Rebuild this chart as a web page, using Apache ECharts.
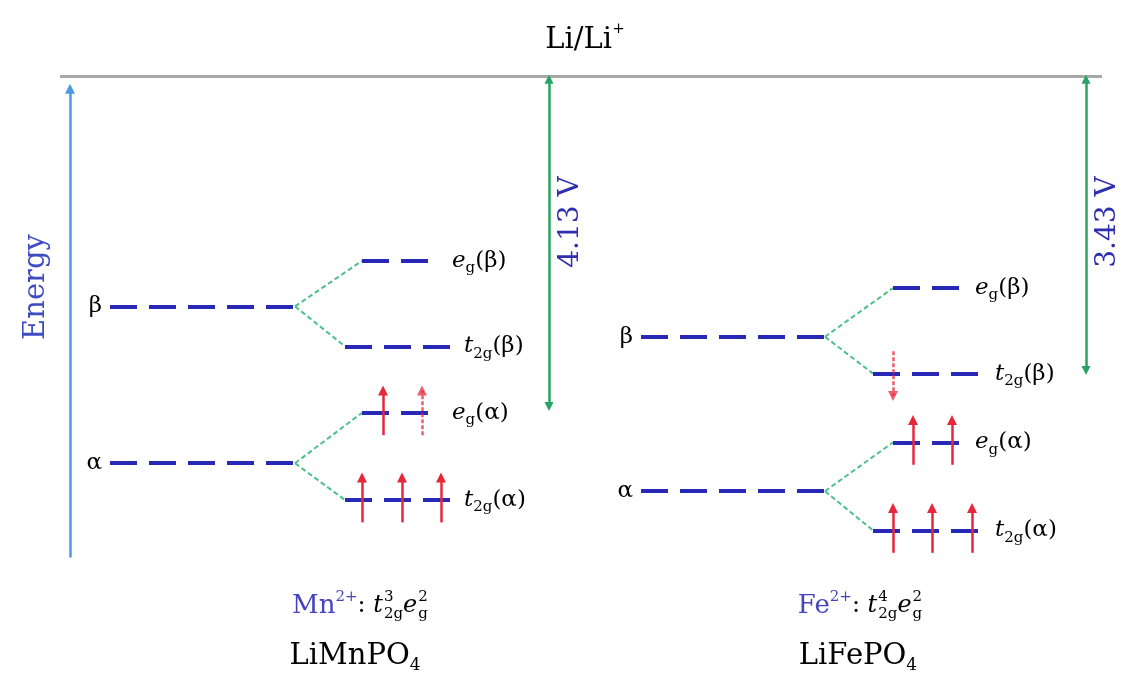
<!DOCTYPE html>
<html><head><meta charset="utf-8">
<script src="https://cdn.jsdelivr.net/npm/echarts@6/dist/echarts.min.js"></script>
<style>html,body{margin:0;padding:0;background:#fff}#c{width:1123px;height:684px}</style>
</head><body><div id="c"></div>
<script>
// ---------- DATA (energies in arb. units, Li/Li+ = 0) ----------
const materials = ['LiMnPO4', 'LiFePO4'];
const ions = ['Mn', 'Fe'];
const ionConfigT2g = ['3', '4'];
const ionConfigEg = ['2', '2'];
const voltages = ['4.13 V', '3.43 V'];
const levelNames = ['β', 'eg(β)', 't2g(β)', 'α', 'eg(α)', 't2g(α)'];
const mnLevels = [-2.88, -2.31, -3.38, -4.84, -4.21, -5.30];
const feLevels = [-3.26, -2.65, -3.72, -5.19, -4.58, -5.68];
const liLevel = 0;
const voltageArrowEnds = [-4.13, -3.68];
// electrons per level: up spins / down spins
const mnUp = [0, 0, 0, 0, 2, 3];
const feUp = [0, 0, 0, 0, 2, 3];
const mnDown = [0, 0, 0, 0, 0, 0];
const feDown = [0, 0, 1, 0, 0, 0];
// spins drawn dashed (partial): [levelIndex, spinIndex]
const mnPartial = [[4, 1]];
const fePartial = [[2, 0]];

// ---------- LAYOUT (pixel x positions, not data) ----------
const layout = [
  { parent: [110, 295], eg: [362, 432], t2g: [345, 452], nameX: 102,
    egLabelX: 452, t2gLabelX: 464, arrowX: 549, voltX: 571,
    egSpins: [383, 422], t2gSpins: [362, 402, 441], captionX: 360, matX: 355 },
  { parent: [641, 825], eg: [893, 960], t2g: [873, 980], nameX: 633,
    egLabelX: 975, t2gLabelX: 995, arrowX: 1086, voltX: 1108,
    egSpins: [913, 952], t2gSpins: [893, 932, 972], captionX: 860, matX: 858 }
];
const yMin = -7.6, yMax = 0.95;
const spinHalf = 0.28;
const FONT = 'DejaVu Serif';
const C = { level: '#2828b6', conn: '#4fc08a', volt: '#26a362', spin: '#e6283c',
            energy: '#4c9be0', li: '#a8a8a8', blueText: '#2e2eb0', text: '#000' };

const allLevels = [mnLevels, feLevels];
const ups = [mnUp, feUp], downs = [mnDown, feDown], partials = [mnPartial, fePartial];

const levelLines = [], connLines = [], spinLines = [], voltLines = [], labels = [];
const rich = {
  n: { fontFamily: FONT, fontSize: 23, color: C.text, lineHeight: 30 },
  it: { fontFamily: FONT, fontSize: 23, fontStyle: 'italic', color: C.text, lineHeight: 30 },
  sub: { fontFamily: FONT, fontSize: 15, color: C.text, verticalAlign: 'bottom', lineHeight: 14 },
  sup: { fontFamily: FONT, fontSize: 15, color: C.text, verticalAlign: 'top', lineHeight: 14 },
  cit: { fontFamily: FONT, fontSize: 24, fontStyle: 'italic', color: C.text, lineHeight: 32, align: 'left' },
  csub: { fontFamily: FONT, fontSize: 15, color: C.text, verticalAlign: 'bottom', lineHeight: 15, align: 'left' },
  csupz: { fontFamily: FONT, fontSize: 15, color: C.text, verticalAlign: 'top', lineHeight: 15, width: 0, align: 'left', padding: [0, 0, 0, 1] },
  cn: { fontFamily: FONT, fontSize: 24, color: C.text, lineHeight: 32, align: 'left' },
  bl: { fontFamily: FONT, fontSize: 26, color: '#4444c0', lineHeight: 32, align: 'left' },
  blsup: { fontFamily: FONT, fontSize: 15, color: '#4444c0', verticalAlign: 'top', lineHeight: 15, align: 'left' },
  big: { fontFamily: FONT, fontSize: 29, color: C.text, lineHeight: 36 },
  bigsub: { fontFamily: FONT, fontSize: 17, color: C.text, verticalAlign: 'bottom', lineHeight: 16 },
  bigsup: { fontFamily: FONT, fontSize: 15, color: C.text, verticalAlign: 'top', lineHeight: 18 }
};
function levelRich(name) {
  const m = name.match(/^(e|t)(g|2g)\((.)\)$/);
  if (!m) return '{n|' + name + '}';
  return '{it|' + m[1] + '}{sub|' + m[2] + '}{n|(' + m[3] + ')}';
}
function addLabel(x, y, text, pos, extra) {
  labels.push({ value: [x, y], label: Object.assign({ show: true, position: pos, distance: 0,
    formatter: text, rich: rich, opacity: 1 }, extra || {}) });
}

allLevels.forEach((lv, k) => {
  const L = layout[k];
  [[0, 1, 2], [3, 4, 5]].forEach(([p, e, t]) => {
    levelLines.push({ coords: [[L.parent[0], lv[p]], [L.parent[1], lv[p]]] });
    levelLines.push({ coords: [[L.eg[0], lv[e]], [L.eg[1], lv[e]]] });
    levelLines.push({ coords: [[L.t2g[0], lv[t]], [L.t2g[1], lv[t]]] });
    connLines.push({ coords: [[L.parent[1], lv[p]], [L.eg[0], lv[e]]] });
    connLines.push({ coords: [[L.parent[1], lv[p]], [L.t2g[0], lv[t]]] });
    addLabel(L.nameX, lv[p], '{n|' + levelNames[p] + '}', 'left');
    addLabel(L.egLabelX, lv[e], levelRich(levelNames[e]), 'right');
    addLabel(L.t2gLabelX, lv[t], levelRich(levelNames[t]), 'right');
  });
  lv.forEach((E, i) => {
    const xs = (i === 1 || i === 4) ? L.egSpins : L.t2gSpins;
    let s = 0;
    const isPartial = idx => partials[k].some(q => q[0] === i && q[1] === idx);
    for (let u = 0; u < ups[k][i]; u++, s++) {
      spinLines.push({ coords: [[xs[s], E - spinHalf], [xs[s], E + spinHalf]],
        lineStyle: isPartial(s) ? { type: [4, 2], opacity: 0.75 } : {} });
    }
    for (let d = 0; d < downs[k][i]; d++, s++) {
      spinLines.push({ coords: [[xs[s], E + spinHalf], [xs[s], E - spinHalf]],
        lineStyle: isPartial(s) ? { type: [4, 2], opacity: 0.75 } : {} });
    }
  });
  voltLines.push({ coords: [[L.arrowX, liLevel - 0.04], [L.arrowX, voltageArrowEnds[k]]] });
  addLabel(L.voltX, (yMax - 222 / 80), '{v|' + voltages[k] + '}', 'inside',
    { rotate: 90, rich: { v: { fontFamily: FONT, fontSize: 28, color: C.blueText } } });
  addLabel(L.captionX, yMax - 606 / 80,
    '{bl|' + ions[k] + '}{blsup|2+}{cn|: }{cit|t}{csupz|' + ionConfigT2g[k] + '}{csub|2g}{cit|e}{csupz|' +
    ionConfigEg[k] + '}{csub|g}', 'inside');
  addLabel(L.matX, yMax - 656 / 80,
    '{big|' + materials[k].replace(/\d$/, '') + '}{bigsub|' + materials[k].slice(-1) + '}', 'inside');
});
addLabel(585, yMax - 40 / 80, '{big|Li/Li}{bigsup|+}', 'inside');
addLabel(36, yMax - 287 / 80, '{e|Energy}', 'inside',
  { rotate: 90, rich: { e: { fontFamily: FONT, fontSize: 29, color: '#3f4cc2' } } });

const option = {
  animation: false,
  backgroundColor: '#fff',
  grid: { left: 0, right: 0, top: 0, bottom: 0 },
  xAxis: { type: 'value', min: 0, max: 1123, show: false },
  yAxis: { type: 'value', min: yMin, max: yMax, show: false },
  series: [
    { type: 'lines', coordinateSystem: 'cartesian2d', silent: true,
      data: [{ coords: [[60, liLevel], [1102, liLevel]] }],
      lineStyle: { color: C.li, width: 3, opacity: 1 } },
    { type: 'lines', coordinateSystem: 'cartesian2d', silent: true,
      data: [{ coords: [[70, -6.02], [70, -0.16]] }],
      symbol: ['none', 'triangle'], symbolSize: [0, 10],
      lineStyle: { color: C.energy, width: 2.5, opacity: 1 } },
    { type: 'lines', coordinateSystem: 'cartesian2d', silent: true, data: connLines,
      lineStyle: { color: C.conn, width: 2, type: [5, 3], opacity: 1 } },
    { type: 'lines', coordinateSystem: 'cartesian2d', silent: true, data: levelLines,
      lineStyle: { color: C.level, width: 4, type: [27, 12], opacity: 1 } },
    { type: 'lines', coordinateSystem: 'cartesian2d', silent: true, data: spinLines,
      symbol: ['none', 'triangle'], symbolSize: [0, 10],
      lineStyle: { color: C.spin, width: 2.5, opacity: 1 } },
    { type: 'lines', coordinateSystem: 'cartesian2d', silent: true, data: voltLines,
      symbol: ['triangle', 'triangle'], symbolSize: [9, 9],
      lineStyle: { color: C.volt, width: 2.5, opacity: 1 } },
    { type: 'scatter', silent: true, symbolSize: 0, itemStyle: { opacity: 1 }, data: labels }
  ]
};
echarts.init(document.getElementById('c'), null, { renderer: 'canvas' }).setOption(option);
</script></body></html>
